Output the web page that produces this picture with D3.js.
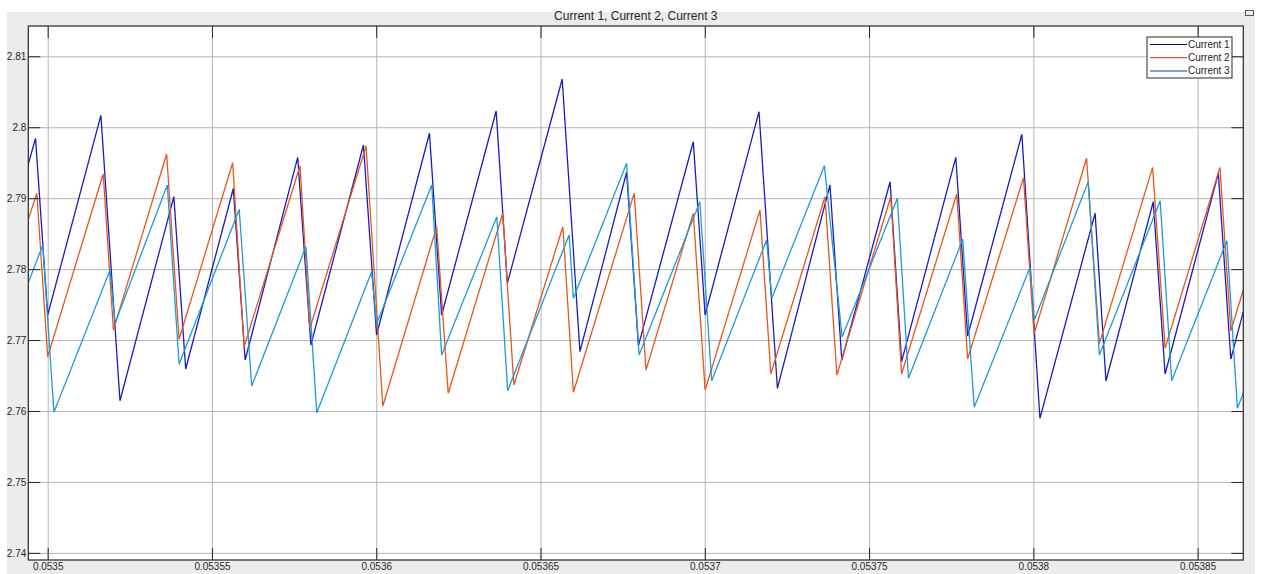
<!DOCTYPE html>
<html>
<head>
<meta charset="utf-8">
<script src="https://cdn.jsdelivr.net/npm/d3@7"></script>
<style>
  body { margin: 0; background: #ffffff; }
  text { font-family: Arial, 'Liberation Sans', sans-serif; fill: #262626; }
  .ejes path { display: none; }
  .ejes line { stroke: #262626; }
  .grid path { display: none; }
  .grid line { stroke: #b4b4b4; stroke-width: 1; }
</style>
</head>
<body>
<div id="graf"></div>
<script>
// datos
const titulo = 'Current 1, Current 2, Current 3'
const nombres = ['Current 1', 'Current 2', 'Current 3']

const xTicks = [0.0535, 0.05355, 0.0536, 0.05365, 0.0537, 0.05375, 0.0538, 0.05385]
const yTicks = [2.74, 2.75, 2.76, 2.77, 2.78, 2.79, 2.8, 2.81]

const t1 = [0.0534941, 0.0534963, 0.0535000, 0.0535162, 0.0535220, 0.0535384, 0.0535420, 0.0535565,
  0.0535601, 0.0535761, 0.0535801, 0.0535961, 0.0536001, 0.0536162, 0.0536199, 0.0536365,
  0.0536399, 0.0536566, 0.0536620, 0.0536762, 0.0536798, 0.0536965, 0.0537001, 0.0537165,
  0.0537221, 0.0537381, 0.0537417, 0.0537564, 0.0537599, 0.0537764, 0.0537800, 0.0537965,
  0.0538020, 0.0538188, 0.0538221, 0.0538365, 0.0538401, 0.0538563, 0.0538601, 0.0538639]
const current1 = [2.79482, 2.79844, 2.77353, 2.80168, 2.76145, 2.79021, 2.76592, 2.79136,
  2.76719, 2.79576, 2.76930, 2.79750, 2.77071, 2.79915, 2.77353, 2.80229,
  2.77800, 2.80680, 2.76836, 2.79365, 2.76921, 2.79796, 2.77353, 2.80219,
  2.76320, 2.79186, 2.76719, 2.79232, 2.76695, 2.79576, 2.77057, 2.79900,
  2.75897, 2.78787, 2.76423, 2.78950, 2.76522, 2.79351, 2.76733, 2.77400]

const t2 = [0.0534941, 0.0534967, 0.0535000, 0.0535169, 0.0535200, 0.0535362, 0.0535400, 0.0535563,
  0.0535598, 0.0535768, 0.0535798, 0.0535969, 0.0536020, 0.0536184, 0.0536219, 0.0536385,
  0.0536419, 0.0536568, 0.0536600, 0.0536785, 0.0536821, 0.0536965, 0.0537001, 0.0537168,
  0.0537201, 0.0537366, 0.0537402, 0.0537566, 0.0537599, 0.0537767, 0.0537800, 0.0537970,
  0.0538002, 0.0538162, 0.0538201, 0.0538363, 0.0538401, 0.0538568, 0.0538601, 0.0538639]
const current2 = [2.78702, 2.79069, 2.76765, 2.79341, 2.77142, 2.79623, 2.77011, 2.79500,
  2.76906, 2.79458, 2.77166, 2.79736, 2.76070, 2.78598, 2.76250, 2.78787,
  2.76367, 2.78598, 2.76264, 2.79069, 2.76578, 2.78787, 2.76296, 2.78833,
  2.76522, 2.79021, 2.76508, 2.79021, 2.76522, 2.79059, 2.76733, 2.79289,
  2.77085, 2.79562, 2.76954, 2.79435, 2.76884, 2.79435, 2.77132, 2.77706]

const t3 = [0.0534941, 0.0534985, 0.0535019, 0.0535190, 0.0535205, 0.0535364, 0.0535400, 0.0535583,
  0.0535621, 0.0535786, 0.0535819, 0.0535986, 0.0536001, 0.0536169, 0.0536199, 0.0536367,
  0.0536400, 0.0536587, 0.0536600, 0.0536762, 0.0536800, 0.0536985, 0.0537021, 0.0537188,
  0.0537204, 0.0537364, 0.0537418, 0.0537586, 0.0537620, 0.0537785, 0.0537820, 0.0537990,
  0.0538003, 0.0538167, 0.0538201, 0.0538386, 0.0538421, 0.0538589, 0.0538621, 0.0538639]
const current3 = [2.77809, 2.78340, 2.75982, 2.77988, 2.77236, 2.79186, 2.76658, 2.78843,
  2.76352, 2.78316, 2.75976, 2.77964, 2.77226, 2.79186, 2.76789, 2.78739,
  2.76286, 2.78481, 2.77589, 2.79492, 2.76789, 2.78950, 2.76427, 2.78411,
  2.77589, 2.79458, 2.77043, 2.78998, 2.76461, 2.78420, 2.76052, 2.78026,
  2.77283, 2.79232, 2.76789, 2.78964, 2.76427, 2.78401, 2.76038, 2.76250]

const colores = ['#1a1ac4', '#e8561c', '#1f9ad6']
const coloresLeyenda = ['#0a0a80', '#d9542e', '#7f9dd8']

const anchoTotal = 1261
const altoTotal = 574

const margin = { top: 26, bottom: 14, left: 28.3, right: 17.7 }
const ancho = anchoTotal - margin.left - margin.right
const alto = altoTotal - margin.top - margin.bottom

const svg = d3.select('#graf')
  .append('svg')
  .attr('width', anchoTotal)
  .attr('height', altoTotal)

// fondo gris de la figura
svg.append('rect')
  .attr('x', 7).attr('y', 12)
  .attr('width', 1248).attr('height', altoTotal - 12)
  .attr('fill', '#ececec')

svg.append('text')
  .attr('x', margin.left + ancho / 2)
  .attr('y', 20)
  .attr('text-anchor', 'middle')
  .style('font-size', '12px')
  .text(titulo)

// icono pequeño arriba a la derecha
svg.append('rect')
  .attr('x', 1245.5).attr('y', 10.5)
  .attr('width', 8).attr('height', 5)
  .attr('fill', 'none').attr('stroke', '#555')

const g = svg.append('g')
  .attr('transform', `translate(${margin.left}, ${margin.top})`)

g.append('rect')
  .attr('width', ancho).attr('height', alto)
  .attr('fill', '#ffffff')

const x = d3.scaleLinear()
  .domain([0.0534941, 0.0538639])
  .range([0, ancho])

const y = d3.scaleLinear()
  .domain([2.738996, 2.814271])
  .range([alto, 0])

// rejilla
g.append('g')
  .attr('class', 'grid')
  .attr('transform', `translate(0, ${alto})`)
  .call(d3.axisBottom(x).tickValues(xTicks).tickSize(-alto).tickFormat(''))

g.append('g')
  .attr('class', 'grid')
  .call(d3.axisLeft(y).tickValues(yTicks).tickSize(-ancho).tickFormat(''))

g.append('clipPath')
  .attr('id', 'recorte')
  .append('rect')
  .attr('width', ancho).attr('height', alto)

const series = [
  { nombre: nombres[0], t: t1, v: current1 },
  { nombre: nombres[1], t: t2, v: current2 },
  { nombre: nombres[2], t: t3, v: current3 },
]

const linea = d3.line()
  .x(d => x(d[0]))
  .y(d => y(d[1]))

g.append('g')
  .attr('clip-path', 'url(#recorte)')
  .selectAll('path')
  .data(series)
  .enter()
  .append('path')
  .attr('d', s => linea(d3.zip(s.t, s.v)))
  .attr('fill', 'none')
  .attr('stroke', (s, i) => colores[i])
  .attr('stroke-width', 1.3)

// ejes con marcas hacia dentro
const xAxisGroup = g.append('g')
  .attr('class', 'ejes')
  .attr('transform', `translate(0, ${alto})`)
  .call(d3.axisBottom(x).tickValues(xTicks).tickSize(-12).tickPadding(3).tickFormat(d3.format('')))

xAxisGroup.selectAll('text').style('font-size', '10px')

g.append('g')
  .attr('class', 'ejes')
  .call(d3.axisTop(x).tickValues(xTicks).tickSize(-12).tickFormat(''))

const yAxisGroup = g.append('g')
  .attr('class', 'ejes')
  .call(d3.axisLeft(y).tickValues(yTicks).tickSize(-12).tickPadding(2).tickFormat(d3.format('')))

yAxisGroup.selectAll('text').style('font-size', '10px')

g.append('g')
  .attr('class', 'ejes')
  .attr('transform', `translate(${ancho}, 0)`)
  .call(d3.axisRight(y).tickValues(yTicks).tickSize(-12).tickFormat(''))

// marco
g.append('rect')
  .attr('width', ancho).attr('height', alto)
  .attr('fill', 'none')
  .attr('stroke', '#262626')
  .attr('stroke-width', 1.2)

// leyenda
const leyenda = svg.append('g')
  .attr('transform', 'translate(1147, 37)')

leyenda.append('rect')
  .attr('width', 85).attr('height', 41)
  .attr('fill', '#ffffff')
  .attr('stroke', '#262626')

const filas = leyenda.selectAll('.fila')
  .data(nombres)
  .enter()
  .append('g')
  .attr('class', 'fila')
  .attr('transform', (d, i) => `translate(0, ${7.5 + i * 13.2})`)

filas.append('line')
  .attr('x1', 3).attr('x2', 40)
  .attr('stroke', (d, i) => coloresLeyenda[i])
  .attr('stroke-width', (d, i) => i === 2 ? 2 : 1.2)

filas.append('text')
  .attr('x', 41)
  .attr('dy', '0.35em')
  .style('font-size', '10px')
  .text(d => d)
</script>
</body>
</html>
